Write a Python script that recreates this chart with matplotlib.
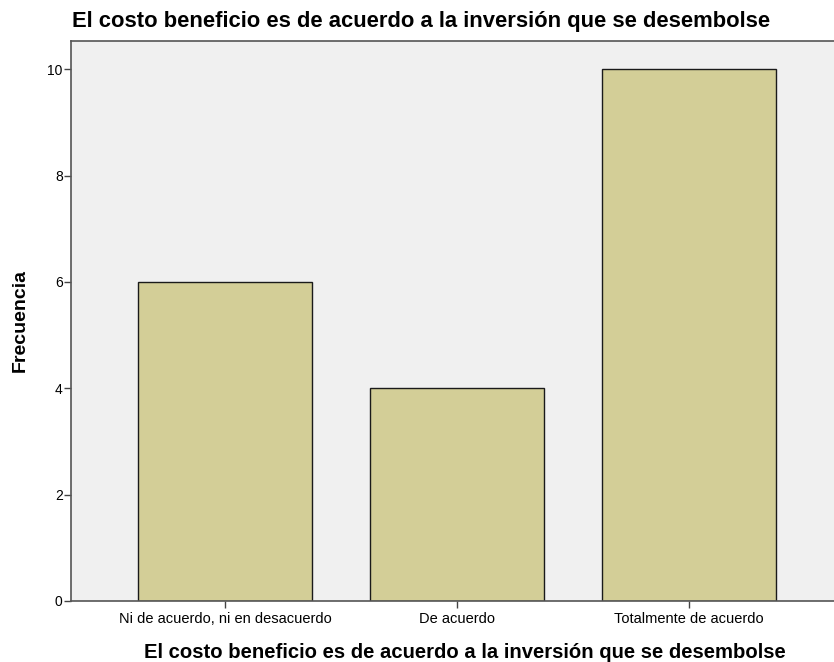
import matplotlib
matplotlib.use("Agg")
import matplotlib.pyplot as plt
import numpy as np

# categories and counts
categorias = ["Ni de acuerdo, ni en desacuerdo", "De acuerdo", "Totalmente de acuerdo"]
frecuencias = [6, 4, 10]
yticks = [0, 2, 4, 6, 8, 10]
titulo = "El costo beneficio es de acuerdo a la inversión que se desembolse"

plt.rcParams['font.family'] = ['Liberation Sans', 'DejaVu Sans']

fig = plt.figure(figsize=(8.34, 6.62), dpi=100)
W, H = 834, 662
ax = fig.add_axes([71 / W, (H - 601) / H, (W - 71) / W, (601 - 41) / H])
ax.set_facecolor('#F0F0F0')

x = np.arange(len(categorias))
ax.bar(x, frecuencias, width=0.75, color='#D3CE97', edgecolor='#1a1a1a', linewidth=1.0, zorder=2)

ax.set_xlim(-0.664, 2.625)
ax.set_ylim(0, 10.53)
ax.set_yticks(yticks)
ax.set_xticks(x)
ax.set_xticklabels(categorias, fontsize=10.5)
ax.tick_params(axis='y', labelsize=10, length=5, width=1, color='#444444', pad=1)
ax.tick_params(axis='x', length=5, width=1, color='#444444', pad=3)

for side in ['left', 'top', 'bottom']:
    ax.spines[side].set_color('#555555')
    ax.spines[side].set_linewidth(1.2)
ax.spines['right'].set_visible(False)

ax.set_ylabel("Frecuencia", fontsize=14, fontweight='bold', va='center')
ax.yaxis.set_label_coords(-(71 - 20) / (W - 71), (601 - 320) / (601 - 41))
ax.set_xlabel(titulo, fontsize=14.6, fontweight='bold', va='center')
ax.xaxis.set_label_coords((465 - 71) / (W - 71), -(652 - 601) / (601 - 41))
fig.text(72 / W, 1 - 21 / H, titulo, fontsize=15.8, fontweight='bold', ha='left', va='center')

fig.savefig("out.png", dpi=100)
